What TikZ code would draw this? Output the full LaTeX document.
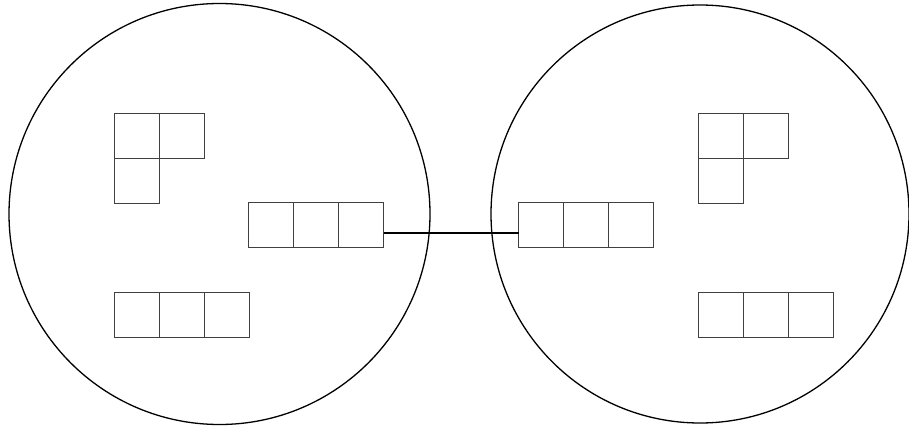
\documentclass[tikz,border=0pt]{standalone}
\begin{document}
\begin{tikzpicture}[x=1pt,y=-1pt,
  cell/.style={draw=black!75,line width=0.8pt,minimum size=45pt,inner sep=0pt,outer sep=0pt},
  region/.style={draw=black,line width=1.3pt,circle,inner sep=0pt},
  link/.style={draw=black,line width=1.3pt}]
\useasboundingbox (0,0) rectangle (909,431);
% circles
\node[region,minimum size=421pt] (cl) at (219.5,214) {};
\node[region,minimum size=418pt] (cr) at (700,214) {};
% left L shape
\node[cell] (l1) at (136.5,135.5) {};
\node[cell] (l2) at (181.5,135.5) {};
\node[cell] (l3) at (136.5,180.5) {};
% left middle row
\node[cell] (a1) at (271,225) {};
\node[cell] (a2) at (316,225) {};
\node[cell] (a3) at (361,225) {};
% left bottom row
\node[cell] (p1) at (137,315) {};
\node[cell] (p2) at (182,315) {};
\node[cell] (p3) at (227,315) {};
% right middle row
\node[cell] (b1) at (541,225) {};
\node[cell] (b2) at (586,225) {};
\node[cell] (b3) at (631,225) {};
% right L shape
\node[cell] (r1) at (721,135.5) {};
\node[cell] (r2) at (766,135.5) {};
\node[cell] (r3) at (721,180.5) {};
% right bottom row
\node[cell] (q1) at (721,315) {};
\node[cell] (q2) at (766,315) {};
\node[cell] (q3) at (811,315) {};
% connector
\draw[link] ([yshift=-8pt]a3.east) -- ([yshift=-8pt]b1.west);
\end{tikzpicture}
\end{document}
